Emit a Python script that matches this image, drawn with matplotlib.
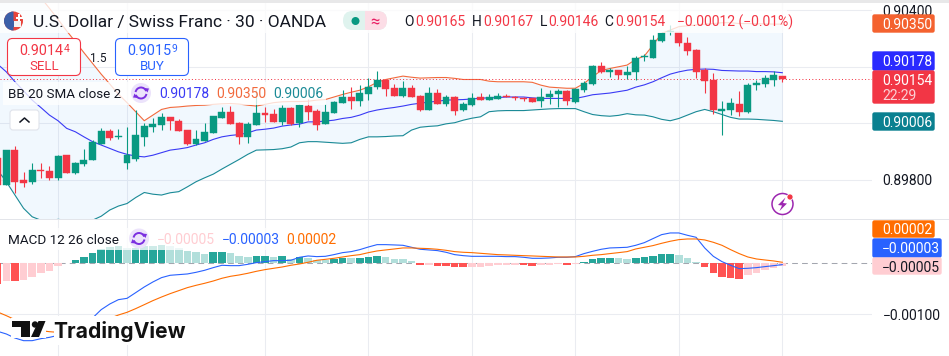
import matplotlib
matplotlib.use("Agg")
import matplotlib.pyplot as plt
import numpy as np
from matplotlib.patches import Arc, Circle, FancyBboxPatch, Polygon, Rectangle, Wedge

plt.rcParams["font.family"] = ["Roboto", "DejaVu Sans"]

W, H = 949, 356
PLOT_R = 872
GREEN = "#089981"
RED = "#f23645"
INK = "#131722"
GRID = "#eaecf1"

# prices, in units of 0.00001
opens = [89875, 89780, 89904, 89798, 89791, 89833, 89830, 89805, 89886, 89823,
         89854, 89869, 89925, 89971, 89949, 89859, 89872, 89950, 89985, 89993,
         90021, 90007, 89975, 89925, 89936, 89964, 90017, 90039, 90000, 89950,
         89993, 90035, 90031, 90003, 90053, 89999, 90060, 90042, 89996, 90035,
         90070, 90092, 90077, 90102, 90126, 90152, 90123, 90095, 90123, 90095,
         90046, 90106, 90067, 90092, 90046, 90062, 90092, 90081, 90085, 90095,
         90092, 90088, 90088, 90077, 90092, 90102, 90113, 90074, 90116, 90138,
         90201, 90180, 90187, 90170, 90180, 90232, 90230, 90290, 90321, 90322,
         90283, 90258, 90187, 90152, 90042, 90046, 90067, 90039, 90133, 90138,
         90152, 90165]
highs = [89916, 89904, 89918, 89825, 89860, 89860, 89847, 89886, 89886, 89863,
         89908, 89939, 89982, 89977, 89977, 89985, 90046, 90001, 90017, 90034,
         90021, 90013, 89975, 89975, 89999, 90024, 90055, 90060, 90003, 90003,
         90116, 90055, 90049, 90063, 90056, 90069, 90085, 90051, 90069, 90077,
         90116, 90127, 90134, 90158, 90184, 90152, 90138, 90148, 90134, 90099,
         90127, 90120, 90099, 90095, 90074, 90106, 90106, 90102, 90106, 90102,
         90095, 90092, 90089, 90123, 90116, 90120, 90116, 90123, 90148, 90205,
         90216, 90194, 90187, 90201, 90237, 90246, 90311, 90322, 90346, 90322,
         90304, 90262, 90194, 90177, 90077, 90088, 90112, 90141, 90152, 90170,
         90184, 90167]
lows = [89780, 89780, 89753, 89774, 89784, 89807, 89798, 89798, 89824, 89819,
        89849, 89869, 89924, 89939, 89942, 89838, 89866, 89919, 89968, 89975,
        89975, 89971, 89922, 89922, 89936, 89964, 90017, 89996, 89925, 89929,
        89993, 90003, 90003, 89993, 89993, 89985, 90010, 89975, 89996, 90035,
        90070, 90049, 90060, 90081, 90122, 90095, 90095, 90092, 90092, 90042,
        90046, 90067, 90060, 90028, 90042, 90060, 90081, 90081, 90085, 90092,
        90081, 90077, 90074, 90056, 90067, 90056, 90063, 90070, 90109, 90134,
        90177, 90162, 90155, 90155, 90152, 90219, 90230, 90288, 90313, 90272,
        90240, 90159, 90106, 90031, 89957, 90028, 90024, 90035, 90116, 90127,
        90131, 90146]
closes = [89782, 89904, 89792, 89787, 89833, 89830, 89805, 89883, 89824, 89858,
          89869, 89933, 89971, 89946, 89954, 89886, 89957, 89989, 89995, 90021,
          90008, 89971, 89925, 89943, 89968, 90024, 90039, 89996, 89950, 89996,
          90035, 90030, 90003, 90053, 89996, 90064, 90039, 89993, 90039, 90074,
          90092, 90077, 90106, 90127, 90152, 90120, 90095, 90123, 90092, 90046,
          90106, 90067, 90092, 90042, 90067, 90088, 90081, 90092, 90095, 90092,
          90088, 90086, 90074, 90092, 90102, 90113, 90077, 90120, 90141, 90201,
          90180, 90187, 90170, 90180, 90230, 90237, 90293, 90318, 90325, 90283,
          90254, 90180, 90148, 90046, 90049, 90070, 90039, 90134, 90141, 90159,
          90170, 90154]

bb_basis = [90208, 90181, 90146, 90114, 90081, 90055, 90028, 90008, 89981, 89969,
            89951, 89934, 89922, 89910, 89898, 89889, 89883, 89880, 89886, 89895,
            89904, 89908, 89913, 89922, 89930, 89942, 89951, 89956, 89959, 89965,
            89975, 89978, 89982, 89989, 89993, 89996, 90004, 90004, 90007, 90010,
            90016, 90020, 90028, 90039, 90046, 90051, 90055, 90060, 90066, 90070,
            90074, 90077, 90081, 90082, 90083, 90085, 90088, 90089, 90090, 90092,
            90092, 90092, 90089, 90087, 90087, 90087, 90087, 90087, 90093, 90100,
            90103, 90106, 90111, 90116, 90127, 90135, 90146, 90160, 90173, 90181,
            90187, 90190, 90191, 90190, 90186, 90185, 90184, 90184, 90182, 90182,
            90181, 90178]
bb_upper = [90647, 90606, 90565, 90524, 90482, 90444, 90406, 90367, 90326, 90288,
            90249, 90211, 90173, 90138, 90102, 90072, 90040, 90008, 90028, 90048,
            90055, 90057, 90060, 90062, 90063, 90066, 90068, 90069, 90067, 90063,
            90060, 90066, 90072, 90075, 90076, 90076, 90077, 90081, 90083, 90092,
            90101, 90109, 90116, 90128, 90144, 90154, 90160, 90166, 90162, 90159,
            90160, 90161, 90161, 90158, 90154, 90154, 90154, 90148, 90146, 90146,
            90146, 90146, 90144, 90134, 90127, 90125, 90123, 90123, 90140, 90164,
            90186, 90193, 90199, 90205, 90225, 90237, 90276, 90317, 90329, 90341,
            90344, 90347, 90350, 90352, 90355, 90355, 90352, 90352, 90351, 90351,
            90350, 90350]
bb_lower = [89833, 89792, 89745, 89698, 89668, 89656, 89654, 89659, 89656, 89650,
            89650, 89656, 89670, 89692, 89706, 89715, 89736, 89754, 89748, 89745,
            89753, 89757, 89774, 89792, 89806, 89819, 89837, 89854, 89871, 89889,
            89904, 89905, 89906, 89909, 89915, 89930, 89934, 89934, 89932, 89930,
            89928, 89930, 89942, 89951, 89951, 89952, 89954, 89955, 89975, 89985,
            89988, 89990, 89997, 90001, 90010, 90017, 90022, 90040, 90043, 90044,
            90044, 90044, 90046, 90048, 90050, 90051, 90051, 90051, 90040, 90030,
            90026, 90024, 90027, 90033, 90029, 90028, 90022, 90013, 90008, 90016,
            90028, 90040, 90048, 90040, 90030, 90020, 90014, 90014, 90013, 90011,
            90009, 90006]

# macd pane, same units
macd_line = [-133.4, -138.6, -146.5, -151.7, -151.7, -147.8, -145.2, -141.3, -136.7, -128.8,
             -119.0, -107.3, -90.9, -79.8, -71.3, -68.7, -57.6, -46.4, -36.6, -28.1,
             -23.5, -22.2, -20.9, -17.7, -13.7, -8.5, -3.9, -4.6, -4.6, -2.0,
             1.3, 3.3, 5.2, 5.2, 5.9, 11.8, 14.4, 13.1, 13.7, 17.0,
             20.9, 22.9, 26.8, 32.0, 36.6, 36.6, 36.0, 35.3, 31.4, 27.5,
             26.2, 24.9, 21.6, 17.0, 15.0, 13.7, 13.7, 13.7, 13.7, 13.1,
             13.1, 11.8, 9.8, 9.8, 10.5, 11.8, 11.8, 13.1, 19.0, 23.5,
             27.5, 30.1, 30.7, 31.4, 35.3, 40.5, 48.4, 56.2, 59.5, 59.5,
             54.9, 51.0, 30.1, 13.7, 3.3, -3.9, -10.5, -9.8, -8.5, -6.5,
             -4.6, -2.6]
signal_line = [-95.5, -102.7, -110.5, -121.6, -128.8, -132.1, -134.1, -135.4, -134.1, -130.8,
               -125.6, -120.3, -113.8, -107.9, -101.4, -96.1, -88.9, -81.1, -73.2, -66.1,
               -59.5, -53.6, -47.7, -43.2, -39.2, -34.7, -29.4, -25.5, -22.9, -19.6,
               -15.7, -12.4, -9.8, -7.2, -3.9, -1.3, 2.0, 5.9, 7.8, 9.8,
               12.4, 15.0, 17.0, 20.9, 24.2, 26.2, 28.1, 30.1, 30.1, 29.4,
               28.8, 27.5, 25.5, 22.9, 21.6, 20.9, 19.6, 18.3, 17.0, 16.4,
               15.7, 15.0, 14.4, 13.7, 13.1, 12.4, 12.4, 12.4, 13.7, 15.7,
               17.0, 19.0, 20.9, 22.9, 28.1, 31.4, 34.7, 39.2, 43.2, 46.4,
               47.7, 47.7, 45.8, 41.2, 35.3, 26.8, 19.0, 12.4, 8.5, 6.5,
               4.6, 2.0]
hist = [-39.9, -34.0, -34.7, -32.7, -26.8, -19.6, -14.4, -5.2, 0.7, 5.9,
        12.4, 20.9, 28.1, 32.7, 34.0, 30.1, 30.7, 34.0, 34.7, 36.0,
        34.0, 29.4, 24.9, 22.2, 19.0, 21.6, 22.9, 20.3, 14.4, 12.4,
        14.4, 15.0, 12.4, 14.4, 9.2, 12.4, 10.5, 7.2, 6.5, 8.5,
        10.5, 9.8, 10.5, 12.4, 14.4, 12.4, 8.5, 7.8, 4.6, -3.3,
        -2.9, -5.2, -5.9, -7.2, -7.8, -7.2, -6.9, -5.2, -3.3, -2.9,
        -2.6, -3.3, -5.2, -3.3, -2.9, -1.3, -3.3, -0.7, 2.6, 8.5,
        10.5, 10.8, 10.5, 8.5, 10.5, 11.8, 14.4, 18.3, 19.0, 16.4,
        10.5, 2.6, -7.2, -19.0, -26.8, -28.8, -30.7, -22.9, -19.0, -13.1,
        -9.2, -5.2]

time_ticks = [7, 15, 31, 43, 55, 67, 79, 91]
price_ticks = [0.904, 0.902, 0.900, 0.898]
price_labels = ["0.90400", "", "", "0.89800"]  # the middle two sit under the badges
macd_ticks = [-0.001]
macd_labels = ["\u22120.00100"]

opens, highs, lows, closes = [np.array(a) / 1e5 for a in (opens, highs, lows, closes)]
bb_basis, bb_upper, bb_lower = [np.array(a) / 1e5 for a in (bb_basis, bb_upper, bb_lower)]
macd_line, signal_line, hist = [np.array(a) / 1e5 for a in (macd_line, signal_line, hist)]
idx = np.arange(len(opens))

fig = plt.figure(figsize=(W / 100, H / 100), dpi=100, facecolor="white")


def pane(top, bottom):
    return fig.add_axes([0, 1 - bottom / H, PLOT_R / W, (bottom - top) / H])


PX = 8.622
XLIM = (2.3 / PX, (PLOT_R + 2.3) / PX)
ax = pane(3, 218.5)
ax2 = pane(219.5, H)
for a in (ax, ax2):
    a.set_xlim(*XLIM)
    a.set_xticks(time_ticks)
    a.set_xticklabels([])
    a.yaxis.tick_right()
    a.tick_params(length=0, pad=7.5, labelsize=10, labelcolor=INK)
    a.grid(True, color=GRID, lw=0.75)
    a.set_axisbelow(True)
    for s in a.spines.values():
        s.set_visible(False)

PER_PX = 0.002 / 56.5
ax.set_ylim(0.904 - 208.5 * PER_PX, 0.904 + 7 * PER_PX)
ax.set_yticks(price_ticks)
ax.set_yticklabels(price_labels)

ax.fill_between(idx, bb_lower, bb_upper, color="#2196f3", alpha=0.06, lw=0, zorder=1)
ax.plot(idx, bb_upper, color="#f26a3d", lw=0.8, zorder=2)
ax.plot(idx, bb_basis, color="#3a3af5", lw=0.8, zorder=2)
ax.plot(idx, bb_lower, color="#1a8a96", lw=0.8, zorder=2)
ax.axhline(closes[-1], color=RED, lw=0.72, dashes=(1, 2.3), zorder=2)

up = closes >= opens
cols = np.where(up, GREEN, RED)
ax.vlines(idx, lows, highs, colors=cols, lw=0.8, zorder=3)
ax.bar(idx, np.abs(closes - opens), bottom=np.minimum(opens, closes), width=0.8,
       color=cols, lw=0.3, edgecolor=cols, zorder=4)

PER_PX2 = 0.001 / 51
ax2.set_ylim(-(H - 263.3) * PER_PX2, (263.3 - 219.5) * PER_PX2)
ax2.set_yticks(macd_ticks)
ax2.set_yticklabels(macd_labels)
ax2.axhline(0, color="#a3a6af", lw=0.75, dashes=(5.5, 4), zorder=1)

# bar colour follows the change from the previous bar
prev = np.concatenate([[hist[0] + 1], hist[:-1]])
bar_cols = np.where(hist >= 0, np.where(hist > prev, "#26a69a", "#b2dfdb"),
                    np.where(hist > prev, "#ffcdd2", "#ff5252"))
ax2.bar(idx, hist, width=0.88, color=bar_cols, lw=0, zorder=2)
ax2.plot(idx, macd_line, color="#2962ff", lw=0.8, zorder=3)
ax2.plot(idx, signal_line, color="#ff6d00", lw=0.8, zorder=3)

# overlay in image pixels for the legends and price badges
ov = fig.add_axes([0, 0, 1, 1], facecolor="none")
ov.set_xlim(0, W)
ov.set_ylim(H, 0)
ov.axis("off")


def rect(x0, y0, x1, y1, color, alpha=1.0, z=1):
    ov.add_patch(Rectangle((x0, y0), x1 - x0, y1 - y0, fc=color, ec="none", alpha=alpha, zorder=z))


def txt(x, y, s, color=INK, fs=10, ha="left", **kw):
    ov.text(x, y, s, color=color, fontsize=fs, ha=ha, va="center_baseline", zorder=6, **kw)


def reload_icon(cx, cy):
    ov.add_patch(Circle((cx, cy), 10, fc="#ece3fb", ec="none", zorder=3))
    ov.add_patch(Arc((cx, cy), 11, 11, theta1=190, theta2=340, ec="#7b2fe0", lw=1.4, zorder=4))
    ov.add_patch(Arc((cx, cy), 11, 11, theta1=10, theta2=160, ec="#7b2fe0", lw=1.4, zorder=4))
    ov.add_patch(Polygon([(cx + 3, cy - 5), (cx + 8, cy - 4.5), (cx + 6.5, cy - 0.5)], fc="#7b2fe0", ec="none", zorder=4))
    ov.add_patch(Polygon([(cx - 3, cy + 5), (cx - 8, cy + 4.5), (cx - 6.5, cy + 0.5)], fc="#7b2fe0", ec="none", zorder=4))


def badge(x1, y0, y1, color):
    ov.add_patch(FancyBboxPatch((873, y0 + 1), x1 - 874, y1 - y0 - 2, boxstyle="round,pad=0,rounding_size=1.5",
                                fc=color, ec=color, lw=1, mutation_aspect=1, zorder=4))


rect(0, 0, W, 2.7, "#e8e8e9", z=5)
rect(0, 218.5, PLOT_R, 219.8, "#e3e5ea", z=5)
rect(872, 218.5, W, 219.5, "#e3e5ea", z=3)
rect(0, 3, 787, 33, "white", 0.78)
rect(3, 82, 326, 105, "white", 0.78)
rect(3, 228, 340, 250, "white", 0.78)

# header
ov.add_patch(Circle((13.5, 21), 9.5, fc="#e8453c", ec="none", zorder=3))
ov.add_patch(Wedge((13.5, 21), 9.5, 90, 270, fc="#3b5fa8", ec="none", zorder=3))
rect(8, 21, 21, 27, "#f4f4f4", z=4)
rect(8.5, 21, 14, 27, "#3b5fa8", z=4)
rect(18.5, 14, 20.5, 21, "white", z=4)
rect(16, 16.5, 23, 18.5, "white", z=4)

txt(33, 21, "U.S. Dollar / Swiss Franc \u00b7 30 \u00b7 OANDA", fs=12.5)
ov.add_patch(FancyBboxPatch((343, 11), 44, 19, boxstyle="round,pad=0,rounding_size=9.5", fc="#dff3ee", ec="none", zorder=3))
ov.add_patch(FancyBboxPatch((365, 11), 22, 19, boxstyle="round,pad=0,rounding_size=9.5", fc="#fcdde6", ec="none", zorder=3))
rect(365, 11, 372, 30, "#fcdde6", z=3)
ov.add_patch(Circle((355.5, 21), 4, fc=GREEN, ec="none", zorder=4))
txt(375, 21, "\u2248", color="#e91e63", fs=12, ha="center")

for lab_x, lab, val_x, val in [(404, "O", 415, "0.90165"), (472, "H", 483, "0.90167"),
                               (539.5, "L", 548, "0.90146"), (604.5, "C", 615, "0.90154")]:
    txt(lab_x, 21, lab)
    txt(val_x, 21, val, color=RED)
txt(677, 21, "\u22120.00012 (\u22120.01%)", color=RED)

# sell / buy
for x0, col, price, sup, side in [(7.5, RED, "0.9014", "4", "SELL"), (115.5, "#2962ff", "0.9015", "9", "BUY")]:
    ov.add_patch(FancyBboxPatch((x0, 38.5), 73, 37, boxstyle="round,pad=0,rounding_size=5", fc="white", ec=col, lw=0.8, zorder=3))
    txt(x0 + 12, 49.5, price, color=col, fs=10.4)
    txt(x0 + 56.5, 48, sup, color=col, fs=7.5)
    txt(x0 + 36.5, 64.5, side, color=col, fs=9.5, ha="center")
txt(98, 57, "1.5", fs=8.5, ha="center")

# legends
txt(8.5, 93, "BB 20 SMA close 2", fs=9.6)
reload_icon(141, 93)
txt(159, 93, "0.90178", color="#3a3af5")
txt(216, 93, "0.90350", color="#f26a3d")
txt(273, 93, "0.90006", color="#1a8a96")
ov.add_patch(FancyBboxPatch((10, 110), 29, 20, boxstyle="round,pad=0,rounding_size=3", fc="white", ec="#e0e3eb", lw=0.8, zorder=3))
ov.plot([20, 24.5, 29], [122, 118, 122], color=INK, lw=1.1, zorder=4)

txt(8.5, 238.5, "MACD 12 26 close", fs=9.7)
reload_icon(139, 238.5)
txt(157, 238.5, "\u22120.00005", color="#ffcdd2")
txt(222, 238.5, "\u22120.00003", color="#2962ff")
txt(286, 238.5, "0.00002", color="#ff6d00")

# price badges
badge(935, 14, 33, "#f4622f")
txt(882, 23.5, "0.90350", color="white")
badge(935, 51, 71, "#2a2aff")
txt(882, 60.5, "0.90178", color="white")
badge(935, 70, 104, RED)
txt(882, 79.5, "0.90154", color="white")
txt(882, 94.5, "22:29", color="#fbd0d5")
badge(935, 112, 131, "#0a8090")
txt(882, 121.5, "0.90006", color="white")
badge(935, 220, 238, "#ff6d00")
txt(882, 228.5, "0.00002", color="white")
badge(942, 238, 258, "#2962ff")
txt(882, 247.5, "\u22120.00003", color="white")
badge(942, 257, 275, "#ffcdd2")
txt(882, 266, "\u22120.00005", color=INK)

# bolt button
ov.add_patch(Circle((782.5, 204), 10.5, fc="white", ec="#9c27b0", lw=1.1, zorder=3))
ov.add_patch(Polygon([(785.5, 197.5), (778, 205), (782, 205.5), (779.5, 211), (787, 203.5), (783, 203)],
                     fc="#9c27b0", ec="none", zorder=4))
ov.add_patch(Circle((790, 197), 3, fc=RED, ec="white", lw=0.5, zorder=5))

# logo, with the white it masks the lines with
rect(11, 318, 46, 338, "white", z=4)
rect(54, 316, 187, 345, "white", z=4)
ov.add_patch(Polygon([(12, 321), (30, 321), (30, 337), (21, 337), (21, 326.5), (12, 326.5)], fc="#111111", ec="none", zorder=5))
ov.add_patch(Circle((35, 324.5), 3.2, fc="#111111", ec="none", zorder=5))
ov.add_patch(Polygon([(38.5, 321), (45.5, 321), (39, 337), (31, 337)], fc="#111111", ec="none", zorder=5))
txt(53, 329, "TradingView", color="#111111", fs=15.2, fontweight="bold", family=["Inter", "DejaVu Sans"])

fig.savefig("out.png", dpi=100)
